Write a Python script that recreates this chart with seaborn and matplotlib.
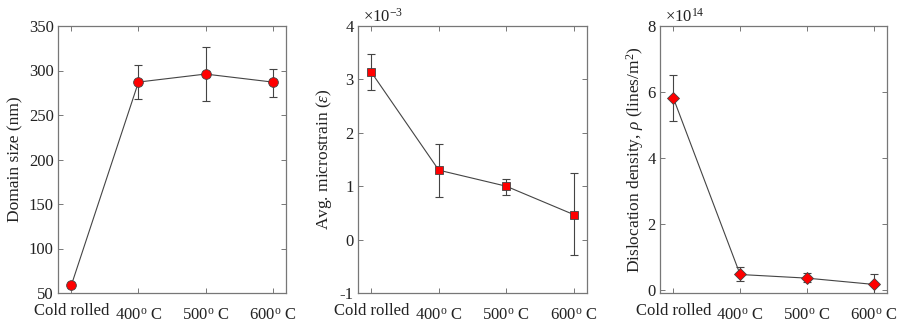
import numpy as np
import pandas as pd
import matplotlib
matplotlib.use("Agg")
import matplotlib.pyplot as plt
import matplotlib.transforms as mtransforms
import seaborn as sns

categories = ["Cold rolled", r"400$^{\rm o}$ C", r"500$^{\rm o}$ C", r"600$^{\rm o}$ C"]

domain_size = [59, 287, 296, 287]
domain_err_low = [57.5, 268, 266, 270.5]
domain_err_high = [60.5, 306, 326, 302]

microstrain = [3.13, 1.30, 1.00, 0.47]          # x 1e-3
strain_err_low = [2.81, 0.80, 0.84, -0.29]
strain_err_high = [3.48, 1.79, 1.14, 1.24]

dislocation = [5.82, 0.48, 0.37, 0.18]          # x 1e14
disl_err_low = [5.14, 0.27, 0.25, -0.10]
disl_err_high = [6.52, 0.71, 0.53, 0.49]

sns.set_style("ticks")
plt.rcParams["font.family"] = ["Liberation Serif", "DejaVu Serif"]
plt.rcParams["mathtext.fontset"] = "custom"
plt.rcParams["mathtext.rm"] = "Liberation Serif"
plt.rcParams["mathtext.it"] = "Liberation Serif:italic"
plt.rcParams["mathtext.bf"] = "Liberation Serif:bold"

fig = plt.figure(figsize=(8.99, 3.27), dpi=100)
bottom = 34 / 327
height = 267 / 327
axes = [
    fig.add_axes([58 / 899, bottom, 228 / 899, height]),
    fig.add_axes([358 / 899, bottom, 229 / 899, height]),
    fig.add_axes([660 / 899, bottom, 227 / 899, height]),
]

panels = [
    dict(y=domain_size, lo=domain_err_low, hi=domain_err_high, marker="o", ms=7,
         ylim=(50, 350), yticks=np.arange(50, 351, 50),
         ylabel="Domain size (nm)", expo=None, lp=4),
    dict(y=microstrain, lo=strain_err_low, hi=strain_err_high, marker="s", ms=5.5,
         ylim=(-1, 4), yticks=np.arange(-1, 4.1, 1),
         ylabel=r"Avg. microstrain ($\it{\varepsilon}$)", expo=r"$\times10^{-3}$", lp=4),
    dict(y=dislocation, lo=disl_err_low, hi=disl_err_high, marker="D", ms=6.3,
         ylim=(-0.08, 8), yticks=np.arange(0, 8.1, 2),
         ylabel=r"Dislocation density, $\it{\rho}$ (lines/m$^2$)", expo=r"$\times10^{14}$", lp=1),
]

edge = "#777777"
xpos = np.arange(len(categories))
shift = mtransforms.ScaledTranslation(0, -3.0 / 72, fig.dpi_scale_trans)
for ax, p in zip(axes, panels):
    df = pd.DataFrame({"x": xpos, "y": p["y"]})
    y = np.array(p["y"])
    lo = y - np.array(p["lo"])
    hi = np.array(p["hi"]) - y
    ax.errorbar(xpos, y, yerr=[lo, hi], fmt="none", ecolor="#444444",
                elinewidth=0.8, capsize=2.6, capthick=0.8, zorder=2)
    sns.lineplot(data=df, x="x", y="y", ax=ax, color="#444444", linewidth=0.8,
                 marker=p["marker"], markersize=p["ms"], markerfacecolor="#ff0000",
                 markeredgecolor="#444444", markeredgewidth=0.6, zorder=3)
    ax.set_xlim(-0.2, 3.2)
    ax.set_ylim(*p["ylim"])
    ax.set_yticks(p["yticks"])
    ax.set_yticklabels([f"{v:g}" for v in p["yticks"]])
    ax.set_xticks(xpos)
    ax.set_xticklabels(categories)
    ax.set_xlabel("")
    ax.set_ylabel(p["ylabel"], fontsize=12.5, color="#222222", labelpad=p["lp"])
    ax.tick_params(direction="in", length=3.5, width=0.7, top=True, right=True,
                   labelsize=12, labelcolor="#222222", color=edge, pad=3)
    ax.tick_params(axis="x", pad=7.5)
    for lab in ax.get_xticklabels()[1:]:
        lab.set_transform(lab.get_transform() + shift)
    for s in ax.spines.values():
        s.set_color(edge)
        s.set_linewidth(0.9)
    if p["expo"]:
        ax.text(0.02, 1.0, p["expo"], transform=ax.transAxes, fontsize=12,
                ha="left", va="bottom", color="#222222")

fig.savefig("out.png", dpi=100)
